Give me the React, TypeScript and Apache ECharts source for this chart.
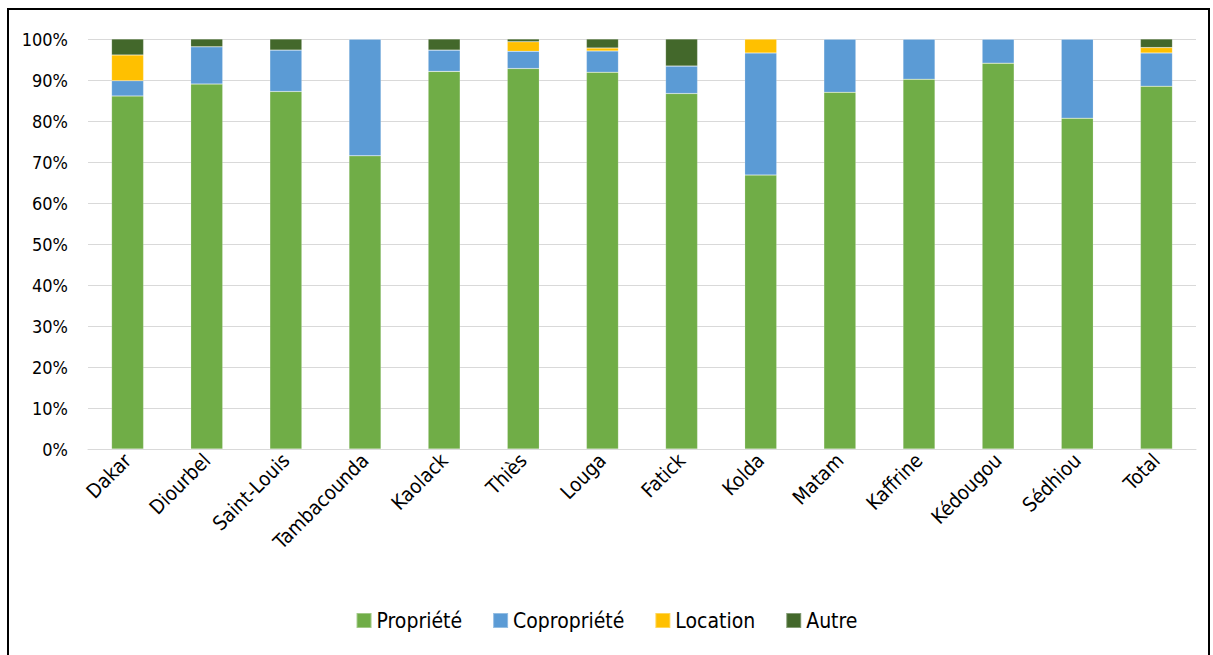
import React, { useEffect, useRef } from "react";
import * as echarts from "echarts";

const regions = [
  "Dakar", "Diourbel", "Saint-Louis", "Tambacounda", "Kaolack", "Thiès", "Louga",
  "Fatick", "Kolda", "Matam", "Kaffrine", "Kédougou", "Sédhiou", "Total",
];

const propriete = [86.1, 89.0, 87.2, 71.5, 92.1, 92.8, 91.9, 86.7, 66.8, 87.0, 90.2, 94.1, 80.7, 88.5];
const copropriete = [3.7, 9.1, 10.1, 28.5, 5.2, 4.2, 5.2, 6.7, 29.8, 13.0, 9.8, 5.9, 19.3, 8.1];
const location = [6.3, 0, 0, 0, 0, 2.3, 0.7, 0, 3.4, 0, 0, 0, 0, 1.3];
const autre = [3.9, 1.9, 2.7, 0, 2.7, 0.7, 2.2, 6.6, 0, 0, 0, 0, 0, 2.1];

const yTicks = [0, 10, 20, 30, 40, 50, 60, 70, 80, 90, 100];

const FONT = "'DejaVu Sans Condensed', 'DejaVu Sans', sans-serif";

export default function App() {
  const ref = useRef<HTMLDivElement>(null);

  useEffect(() => {
    if (!ref.current) return;
    const chart = echarts.init(ref.current, undefined, { renderer: "svg" });
    const mk = (name: string, data: number[], color: string) => ({
      name,
      type: "bar",
      stack: "total",
      data,
      barWidth: 32,
      itemStyle: { color, borderColor: "rgba(255,255,255,0.35)", borderWidth: 0.5 },
    });
    chart.setOption({
      animation: false,
      textStyle: { fontFamily: FONT },
      grid: { left: 88, right: 17, top: 39, bottom: 206 },
      xAxis: {
        type: "category",
        data: regions,
        axisTick: { show: false },
        axisLine: { lineStyle: { color: "#d9d9d9", width: 1 } },
        axisLabel: {
          rotate: 45,
          interval: 0,
          color: "#000",
          fontSize: 20,
          fontFamily: FONT,
          margin: 8,
        },
      },
      yAxis: {
        type: "value",
        min: yTicks[0],
        max: yTicks[yTicks.length - 1],
        interval: 10,
        axisLine: { show: false },
        axisTick: { show: false },
        splitLine: { lineStyle: { color: "#d9d9d9", width: 1 } },
        axisLabel: {
          color: "#000",
          fontSize: 18,
          fontFamily: FONT,
          margin: 20,
          formatter: (v: number) => `${v}%`,
        },
      },
      legend: {
        bottom: 19,
        left: "center",
        itemWidth: 15,
        itemHeight: 15,
        itemGap: 30,
        icon: "rect",
        textStyle: { color: "#000", fontSize: 21, fontFamily: FONT },
        data: ["Propriété", "Copropriété", "Location", "Autre"],
      },
      series: [
        mk("Propriété", propriete, "#70AD47"),
        mk("Copropriété", copropriete, "#5B9BD5"),
        mk("Location", location, "#FFC000"),
        mk("Autre", autre, "#43682B"),
      ],
    });
    return () => chart.dispose();
  }, []);

  return (
    <div style={{ position: "fixed", left: 0, top: 0, width: 1213, height: 655, background: "#fff" }}>
      <div ref={ref} style={{ position: "absolute", left: 0, top: 0, width: 1213, height: 655 }} />
      <div
        style={{
          position: "absolute",
          left: 7,
          top: 8,
          width: 1203,
          height: 660,
          border: "2px solid #000",
          boxSizing: "border-box",
          pointerEvents: "none",
        }}
      />
    </div>
  );
}
